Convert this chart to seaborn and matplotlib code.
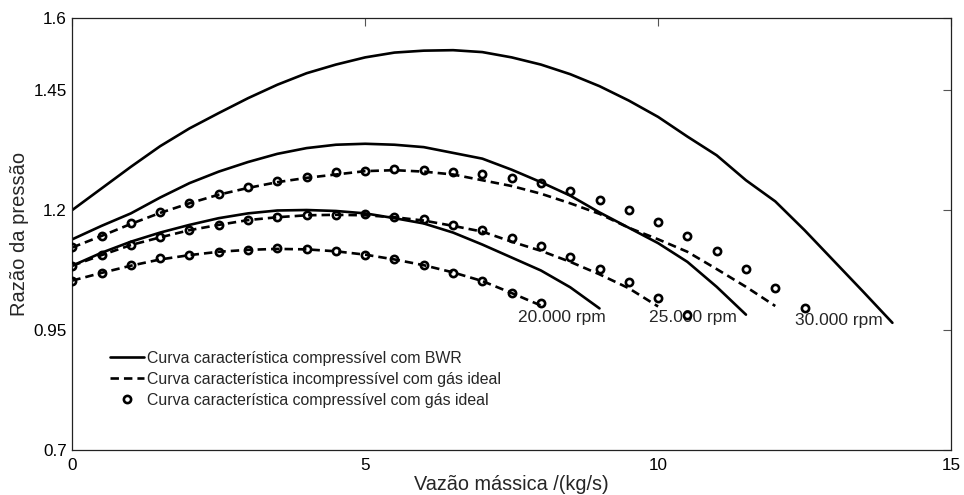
import numpy as np
import pandas as pd
import matplotlib
matplotlib.use("Agg")
import matplotlib.pyplot as plt
from matplotlib.lines import Line2D
import seaborn as sns

# Mass flow grid (kg/s), 0.5 step
step = 0.5

# BWR compressible characteristic curves
bwr_30k = [1.200, 1.245, 1.290, 1.333, 1.370, 1.402, 1.433, 1.461, 1.485, 1.503,
           1.518, 1.528, 1.532, 1.533, 1.529, 1.518, 1.503, 1.483, 1.458, 1.428,
           1.394, 1.353, 1.314, 1.262, 1.218, 1.158, 1.094, 1.030, 0.965]
bwr_25k = [1.139, 1.167, 1.193, 1.226, 1.256, 1.280, 1.300, 1.317, 1.329, 1.336,
           1.338, 1.336, 1.331, 1.319, 1.307, 1.284, 1.258, 1.230, 1.195, 1.163,
           1.131, 1.092, 1.040, 0.982]
bwr_20k = [1.084, 1.111, 1.134, 1.153, 1.169, 1.183, 1.193, 1.199, 1.200, 1.198,
           1.193, 1.183, 1.172, 1.153, 1.128, 1.101, 1.074, 1.039, 0.995]

# Incompressible ideal-gas characteristic curves
inc_30k = [1.122, 1.146, 1.171, 1.194, 1.214, 1.232, 1.246, 1.258, 1.267, 1.274,
           1.281, 1.283, 1.280, 1.274, 1.262, 1.250, 1.234, 1.214, 1.192, 1.163,
           1.139, 1.113, 1.077, 1.040, 1.000]
inc_25k = [1.084, 1.106, 1.127, 1.143, 1.158, 1.169, 1.179, 1.185, 1.189, 1.190,
           1.189, 1.185, 1.178, 1.167, 1.155, 1.134, 1.115, 1.092, 1.066, 1.037,
           0.999]
inc_20k = [1.053, 1.069, 1.084, 1.097, 1.106, 1.113, 1.117, 1.119, 1.118, 1.114,
           1.107, 1.097, 1.085, 1.070, 1.052, 1.027, 1.001]

# Compressible ideal-gas points
cmp_30k = [1.122, 1.146, 1.172, 1.196, 1.215, 1.233, 1.247, 1.261, 1.269, 1.279,
           1.282, 1.285, 1.283, 1.279, 1.275, 1.267, 1.256, 1.240, 1.220, 1.199,
           1.174, 1.146, 1.114, 1.078, 1.038, 0.996]
cmp_25k = [1.084, 1.106, 1.127, 1.143, 1.158, 1.169, 1.179, 1.185, 1.190, 1.190,
           1.191, 1.186, 1.181, 1.169, 1.158, 1.141, 1.124, 1.103, 1.077, 1.049,
           1.016, 0.981]
cmp_20k = [1.053, 1.069, 1.085, 1.099, 1.106, 1.113, 1.117, 1.120, 1.118, 1.115,
           1.106, 1.098, 1.085, 1.069, 1.053, 1.028, 1.006]

speed_labels = ["20.000 rpm", "25.000 rpm", "30.000 rpm"]
legend_labels = ["Curva característica compressível com BWR",
                 "Curva característica incompressível com gás ideal",
                 "Curva característica compressível com gás ideal"]
xticks = [0, 5, 10, 15]
yticks = [0.7, 0.95, 1.2, 1.45, 1.6]


def frame(values):
    x = np.arange(len(values)) * step
    return pd.DataFrame({"m": x, "pr": values})


sns.set_theme(style="white")
plt.rcParams["font.family"] = ["Liberation Sans", "DejaVu Sans"]

fig = plt.figure(figsize=(9.64, 4.95), dpi=100)
ax = fig.add_axes([0.075, 0.0909, 0.9115, 0.8727])

LW = 1.9
DASH = (3.2, 1.9)
for vals in (bwr_30k, bwr_25k, bwr_20k):
    sns.lineplot(data=frame(vals), x="m", y="pr", ax=ax, color="black",
                 lw=LW, sort=False, estimator=None)
for vals in (inc_30k, inc_25k, inc_20k):
    line = sns.lineplot(data=frame(vals), x="m", y="pr", ax=ax, color="black",
                        lw=LW, sort=False, estimator=None).lines[-1]
    line.set_dashes(DASH)
for vals in (cmp_30k, cmp_25k, cmp_20k):
    d = frame(vals)
    ax.plot(d["m"], d["pr"], linestyle="none", marker="o", markersize=5.2,
            markerfacecolor="none", markeredgecolor="black",
            markeredgewidth=1.9, zorder=4)

# Speed annotations
ax.text(7.6, 0.977, speed_labels[0], fontsize=12.5, va="center", ha="left", zorder=1)
ax.text(9.85, 0.977, speed_labels[1], fontsize=12.5, va="center", ha="left", zorder=1)
ax.text(12.33, 0.969, speed_labels[2], fontsize=12.5, va="center", ha="left", zorder=1)

ax.set_xlim(0, 15)
ax.set_ylim(0.7, 1.6)
ax.set_xticks(xticks)
ax.set_xticklabels([str(v) for v in xticks])
ax.set_yticks(yticks)
ax.set_yticklabels(["0.7", "0.95", "1.2", "1.45", "1.6"])
ax.tick_params(direction="in", length=6, width=0.8, color="#555555",
               labelsize=12.3, top=True, right=True, labelcolor="black")
ax.tick_params(axis="x", pad=6)
ax.tick_params(axis="y", pad=4)
for s in ax.spines.values():
    s.set_visible(True)
    s.set_color("#222222")
    s.set_linewidth(0.9)

ax.set_xlabel("Vazão mássica /(kg/s)", fontsize=14.3, labelpad=1)
ax.set_ylabel("Razão da pressão", fontsize=14.5, labelpad=3)

handles = [
    Line2D([], [], color="black", lw=LW),
    Line2D([], [], color="black", lw=LW, dashes=DASH),
    Line2D([], [], linestyle="none", marker="o", markersize=5.2,
           markerfacecolor="none", markeredgecolor="black", markeredgewidth=1.9),
]
ax.legend(handles, legend_labels, loc="upper left", frameon=False,
          bbox_to_anchor=(0.036, 0.245), fontsize=11.4, handlelength=2.1,
          handletextpad=0.2, labelspacing=0.38, borderaxespad=0.0)

fig.savefig("out.png", dpi=100)
